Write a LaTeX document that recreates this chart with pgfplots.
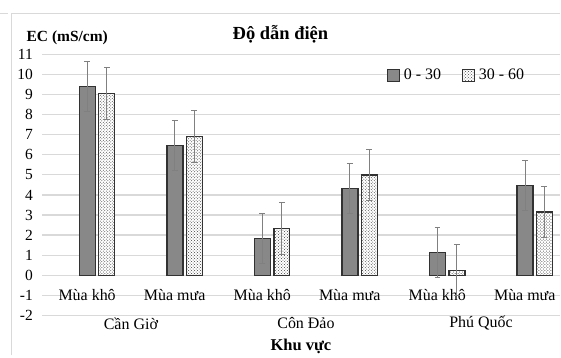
\documentclass[border=0pt]{standalone}
\usepackage{pgfplots}
\pgfplotsset{compat=1.18}
\usepackage{pgfplotstable}
\usetikzlibrary{patterns}
\usepackage{fontspec}
\setmainfont{Liberation Serif}
\definecolor{gridc}{RGB}{217,217,217}
\definecolor{barA}{RGB}{136,136,136}
\definecolor{edgec}{RGB}{50,50,50}
\definecolor{errc}{RGB}{128,128,128}
\pgfplotstableread{
x y e
0 9.42 1.25
1 6.45 1.25
2 1.84 1.25
3 4.33 1.24
4 1.13 1.26
5 4.48 1.24
}\tabA
\pgfplotstableread{
x y e
0 9.05 1.31
1 6.90 1.30
2 2.34 1.29
3 4.99 1.29
4 0.25 1.26
5 3.15 1.29
}\tabB
\begin{document}
\begin{tikzpicture}[x=1pt,y=1pt]
\path (0,0) rectangle (561,356);
\draw[gridc, line width=1pt] (10.7,0) -- (10.7,342.7) -- (561,342.7);
\draw[gridc, line width=1pt] (0,342.7) -- (8,342.7);
\node[font=\fontsize{18.5}{20}\selectfont\bfseries, anchor=base] at (280.5,316.7) {Độ dẫn điện};
\node[font=\fontsize{15.5}{17}\selectfont\bfseries, anchor=base west, inner sep=0pt] at (26,314.5) {EC (mS/cm)};
\begin{axis}[
  at={(42pt,40pt)}, anchor=south west,
  scale only axis, width=519pt, height=261.5pt,
  xmin=-0.625, xmax=5.293, ymin=-2, ymax=11,
  ybar, bar width=16pt,
  axis line style={draw=none},
  major tick length=0pt,
  ytick={-2,...,11},
  ymajorgrids, grid style={gridc, line width=1.2pt},
  xtick={0,...,5},
  xticklabels={Mùa khô, Mùa mưa, Mùa khô, Mùa mưa, Mùa khô, Mùa mưa},
  xticklabel style={anchor=center, yshift=20pt, xshift=-10pt, font=\fontsize{16}{18}\selectfont},
  yticklabel style={anchor=east, inner sep=0pt, xshift=-9.5pt, font=\fontsize{15.5}{17}\selectfont},
  /pgf/number format/assume math mode=true,
  clip=false,
  legend columns=2,
  legend style={at={(0.6647,0.92)}, anchor=west, draw=none, fill=none, inner sep=0pt,
    font=\fontsize{16}{18}\selectfont, nodes={inner sep=2pt},
    /tikz/every odd column/.append style={column sep=2pt},
    /tikz/every even column/.append style={column sep=19pt}},
  legend image code/.code={\draw[#1, line width=0.9pt] (0pt,-6pt) rectangle (12pt,6pt);},
]
\addplot[fill=barA, draw=edgec, line width=1.2pt, bar shift=-9.75pt,
  error bars/.cd, y dir=both, y explicit,
  error bar style={errc, line width=1pt},
  error mark options={rotate=90, errc, mark size=3pt, line width=1pt}]
  table[x=x, y=y, y error=e] {\tabA};
\addlegendentry{0 - 30}
\addplot[fill=white, draw=edgec, line width=1.2pt, bar shift=9.75pt,
  postaction={pattern=crosshatch dots, pattern color=black!75},
  error bars/.cd, y dir=both, y explicit,
  error bar style={errc, line width=1pt},
  error mark options={rotate=90, errc, mark size=3pt, line width=1pt}]
  table[x=x, y=y, y error=e] {\tabB};
\addlegendentry{30 - 60}
\node[font=\fontsize{16}{18}\selectfont, xshift=-10pt, yshift=-8pt] at (axis cs:0.5,-2) {Cần Giờ};
\node[font=\fontsize{16}{18}\selectfont, xshift=-10pt, yshift=-8pt] at (axis cs:2.5,-2) {Côn Đảo};
\node[font=\fontsize{16}{18}\selectfont, xshift=-10pt, yshift=-8pt] at (axis cs:4.5,-2) {Phú Quốc};
\end{axis}
\node[font=\fontsize{16.5}{18}\selectfont\bfseries, anchor=base] at (301,4.5) {Khu vực};
\end{tikzpicture}
\end{document}
